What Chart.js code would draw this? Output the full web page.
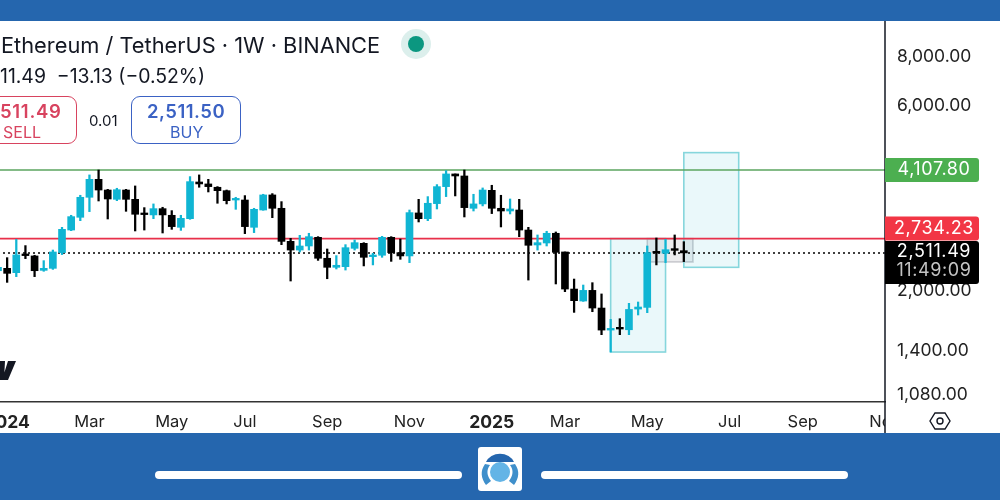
<!DOCTYPE html>
<html>
<head>
<meta charset="utf-8">
<script src="https://cdn.jsdelivr.net/npm/chart.js@4"></script>
<style>
  html, body { margin: 0; padding: 0; width: 1000px; height: 500px; overflow: hidden; background: #2566ae; }
  body { position: relative; font-family: Inter, "Noto Sans", sans-serif; color: #131722; }
  #panel { position: absolute; left: 0; top: 21px; width: 1000px; height: 412px; background: #fff; overflow: hidden; }
  #chartCanvas { position: absolute; left: -2px; top: 0; }
  .txt { position: absolute; white-space: nowrap; line-height: 1; }
  .btn { position: absolute; top: 75px; height: 46px; border: 1.5px solid; border-radius: 9px; box-sizing: content-box; }
  .pill { position: absolute; top: 471px; height: 8px; border-radius: 4px; background: #fff; }
</style>
</head>
<body>
<div id="panel">
  <canvas id="chartCanvas" width="1002" height="412"></canvas>
  <div class="txt" style="left:1px;top:14px;font-size:21.8px;">Ethereum / TetherUS · 1W · BINANCE</div>
  <div style="position:absolute;left:401px;top:8px;width:30px;height:30px;border-radius:50%;background:#dcefec;"></div>
  <div style="position:absolute;left:408px;top:15px;width:16px;height:16px;border-radius:50%;background:#0b9780;"></div>
  <div class="txt" style="left:0;top:46px;font-size:19.4px;">11.49&nbsp; −13.13 (−0.52%)</div>
  <div class="btn" style="left:-10px;width:85px;border-color:#d8435f;"></div>
  <div class="txt" style="left:0;top:81px;font-size:18.5px;font-weight:600;color:#d8435f;letter-spacing:.7px;">511.49</div>
  <div class="txt" style="left:3px;top:103px;font-size:16px;color:#d8435f;">SELL</div>
  <div class="txt" style="left:89px;top:92px;font-size:15px;">0.01</div>
  <div class="btn" style="left:131px;width:108px;border-color:#3b62c4;"></div>
  <div class="txt" style="left:147px;top:81px;font-size:18.5px;font-weight:600;color:#3b62c4;letter-spacing:.5px;">2,511.50</div>
  <div class="txt" style="left:170px;top:103px;font-size:16px;color:#3b62c4;">BUY</div>
  <svg style="position:absolute;left:0;top:338px;" width="18" height="24" viewBox="0 0 18 24"><path d="M0 2H5L4 21H0ZM8 2H16L8 21H2Z" fill="#131722"/></svg>
  <svg style="position:absolute;left:929px;top:389px;" width="22" height="22" viewBox="0 0 22 22" fill="none" stroke="#131722" stroke-width="1.4"><path d="M6 3H16L21 11L16 19H6L1 11Z"/><circle cx="11" cy="11" r="3"/></svg>
</div>
<div class="pill" style="left:155px;width:307px;"></div>
<div class="pill" style="left:541px;width:307px;"></div>
<svg style="position:absolute;left:478px;top:447px;" width="44" height="44" viewBox="0 0 44 44">
  <rect width="44" height="44" rx="3" fill="#fff"/>
  <path d="M8 15A15 13 0 0 1 36 15Z" fill="#2566ae"/>
  <path d="M7 17C2 24 3 31 8 38L13 34C9 29 8 23 12 18Z" fill="#3f8fcb"/>
  <path d="M37 17C42 24 41 31 36 38L31 34C35 29 36 23 32 18Z" fill="#3f8fcb"/>
  <circle cx="22" cy="25" r="10" fill="#63b4e6"/>
</svg>
<script>
// weekly candles, Jan 2024 onward
const opens = [2260,2292,2234,2496,2467,2265,2292,2516,2877,3103,3494,3887,3648,3452,3648,3452,3178,3147,3266,3140,2924,3078,3826,3782,3708,3634,3438,3438,2924,3240,3543,3273,2690,2555,2617,2755,2433,2306,2315,2581,2659,2457,2477,2755,2516,2467,3184,3078,3365,3722,4013,3965,3273,3359,3641,3273,3221,3240,2877,2633,2664,2822,2526,2027,1888,2011,1811,1589,1615,1592,1800,1818,2531,2506,2576,2545];
const highs = [2339,2442,2722,2623,2477,2399,2555,2924,3140,3536,3990,4108,3663,3686,3663,3737,3286,3359,3293,3228,3140,3950,3990,3887,3722,3648,3494,3529,3273,3557,3571,3405,2739,2788,2822,2766,2571,2472,2638,2711,2669,2506,2771,2766,2727,3240,3452,3508,3767,4092,4013,4108,3557,3693,3752,3536,3459,3452,2924,2794,2856,2844,2526,2151,2076,2105,1969,1693,1700,1862,1877,2617,2744,2722,2794,2685];
const lows = [2217,2109,2182,2428,2182,2252,2278,2487,2866,3041,3209,3418,3072,3425,3215,2861,2877,3078,2827,2889,2871,3066,3708,3606,3372,3359,3253,2816,2833,3235,3096,2638,2126,2526,2555,2403,2155,2283,2269,2555,2325,2339,2447,2389,2418,2371,3018,3041,3260,3508,3522,3109,3221,3319,3172,2930,3165,2766,2138,2555,2617,2089,1996,1765,1884,1772,1546,1395,1546,1546,1738,1762,2339,2371,2482,2385];
const closes = [2306,2225,2482,2472,2260,2292,2526,2889,3115,3494,3887,3648,3459,3655,3452,3159,3153,3266,3147,2936,3084,3834,3782,3722,3634,3425,3466,2936,3253,3543,3273,2690,2555,2617,2766,2433,2306,2334,2591,2669,2447,2477,2755,2516,2467,3190,3078,3372,3722,4013,3965,3286,3359,3648,3273,3221,3260,2877,2628,2669,2822,2521,2027,1892,2011,1811,1589,1605,1599,1796,1822,2516,2511,2560,2550,2512];

const weekLabels = [
  "","2024","","","","","","","","","Mar","","","","","","","","","May",
  "","","","","","","","Jul","","","","","","","","","Sep","","","",
  "","","","","","Nov","","","","","","","","","2025","","","","","",
  "","","Mar","","","","","","","","","May","","","","","","","","",
  "Jul","","","","","","","","Sep","","","","","","","","","Nov"
];
const yearLabels = ["2024", "2025"];

const priceTicks = [8000, 6000, 2000, 1400, 1080];
const greenLevel = 4107.80;
const redLevel = 2734.23;
const lastPrice = 2511.49;
const countdown = "11:49:09";

// [first week, last week, top price, bottom price]
const tealBoxes = [[67, 73, 2734, 1395], [75, 81, 4554, 2306]];
const greyBox = [71, 76, 2734, 2380];

const upColor = "#10b5d3";
const downColor = "#000000";

const wicks = highs.map((h, i) => [lows[i], h]);
const bodies = opens.map((o, i) => [Math.min(o, closes[i]), Math.max(o, closes[i])]);
const candleColors = opens.map((o, i) => (closes[i] >= o ? upColor : downColor));

function roundTag(ctx, x, y, w, h, r, fill) {
    ctx.fillStyle = fill;
    ctx.beginPath();
    ctx.roundRect(x, y, w, h, [0, r, r, 0]);
    ctx.fill();
}

const overlayPlugin = {
    id: "overlay",
    beforeDatasetsDraw(chart) {
        const { ctx, scales: { x, y } } = chart;
        const drawBox = (b, fill, stroke) => {
            const left = x.getPixelForValue(b[0]);
            const right = x.getPixelForValue(b[1]);
            const top = y.getPixelForValue(b[2]);
            const bottom = y.getPixelForValue(b[3]);
            ctx.save();
            ctx.fillStyle = fill;
            ctx.strokeStyle = stroke;
            ctx.lineWidth = 1.6;
            ctx.fillRect(left, top, right - left, bottom - top);
            ctx.strokeRect(left, top, right - left, bottom - top);
            ctx.restore();
        };
        drawBox(greyBox, "rgba(120,123,134,0.14)", "rgba(120,123,134,0.35)");
        tealBoxes.forEach(b => drawBox(b, "rgba(20,175,200,0.09)", "#86d6dc"));
    },
    afterDraw(chart) {
        const { ctx, chartArea, scales: { y } } = chart;
        const axisX = chartArea.right;
        ctx.save();
        // hide the part of the last month label that runs into the price scale
        ctx.fillStyle = "#fff";
        ctx.fillRect(axisX, chartArea.bottom + 1, 115, 30);
        ctx.strokeStyle = "#131722";
        ctx.lineWidth = 1.5;
        ctx.beginPath();
        ctx.moveTo(axisX, 0);
        ctx.lineTo(axisX, chart.height);
        ctx.stroke();

        ctx.textAlign = "center";
        ctx.textBaseline = "middle";
        ctx.font = "18px Inter";
        ctx.letterSpacing = "0.6px";
        const labelX = axisX + 49;

        const gy = y.getPixelForValue(greenLevel);
        roundTag(ctx, axisX, gy - 12, 94, 24, 3, "#4caf50");
        ctx.fillStyle = "#fff";
        ctx.fillText(greenLevel.toLocaleString("en-US", { minimumFractionDigits: 2 }), labelX, gy);

        const ry = y.getPixelForValue(redLevel);
        roundTag(ctx, axisX, ry - 22, 94, 24, 3, "#f23645");
        ctx.fillStyle = "#fff";
        ctx.fillText(redLevel.toLocaleString("en-US", { minimumFractionDigits: 2 }), labelX, ry - 10);

        const ly = y.getPixelForValue(lastPrice);
        roundTag(ctx, axisX, ly - 12, 94, 43, 3, "#000");
        ctx.fillStyle = "#fff";
        ctx.fillText(lastPrice.toLocaleString("en-US", { minimumFractionDigits: 2 }), labelX, ly - 1);
        ctx.fillStyle = "#c4c4c4";
        ctx.fillText(countdown, labelX, ly + 18);
        ctx.restore();
    }
};

const flatLine = (value, color, dash) => ({
    type: "line",
    data: weekLabels.map(() => value),
    borderColor: color,
    borderWidth: 1.6,
    borderDash: dash,
    pointRadius: 0,
    order: 3
});

new Chart(document.getElementById("chartCanvas"), {
    data: {
        labels: weekLabels,
        datasets: [
            flatLine(greenLevel, "#5ba55f", []),
            flatLine(redLevel, "#e8304a", []),
            flatLine(lastPrice, "#000", [2, 3]),
            { type: "bar", data: wicks, backgroundColor: candleColors, barThickness: 1.6, grouped: false, order: 2 },
            { type: "bar", data: bodies, backgroundColor: candleColors, barThickness: 7, minBarLength: 1.6, grouped: false, order: 1 }
        ]
    },
    options: {
        responsive: false,
        animation: false,
        layout: { padding: 0 },
        plugins: { legend: { display: false }, tooltip: { enabled: false } },
        scales: {
            x: {
                offset: false,
                grid: { display: false, drawTicks: false },
                border: { color: "#333", width: 1.5 },
                afterFit: s => { s.height = 31; s.paddingLeft = 0; s.paddingRight = 0; },
                ticks: {
                    autoSkip: false,
                    maxRotation: 0,
                    padding: 10,
                    color: "#222",
                    font: ctx => {
                        const isYear = yearLabels.includes(ctx.tick && ctx.tick.label);
                        return { family: "Inter", size: isYear ? 17.5 : 16.5, weight: isYear ? "bold" : "normal" };
                    }
                }
            },
            y: {
                type: "logarithmic",
                position: "right",
                bounds: "data",
                min: 1037,
                max: 9945,
                grid: { display: false, drawTicks: false },
                border: { display: false },
                afterFit: s => { s.width = 115; s.paddingTop = 0; s.paddingBottom = 0; },
                afterBuildTicks: s => { s.ticks = priceTicks.map(v => ({ value: v })); },
                ticks: {
                    align: "center",
                    padding: 12,
                    labelOffset: -0.5,
                    color: "#222",
                    font: { family: "Inter", size: 17.5 },
                    callback: v => v.toLocaleString("en-US", { minimumFractionDigits: 2 })
                }
            }
        }
    },
    plugins: [overlayPlugin]
});
</script>
</body>
</html>
